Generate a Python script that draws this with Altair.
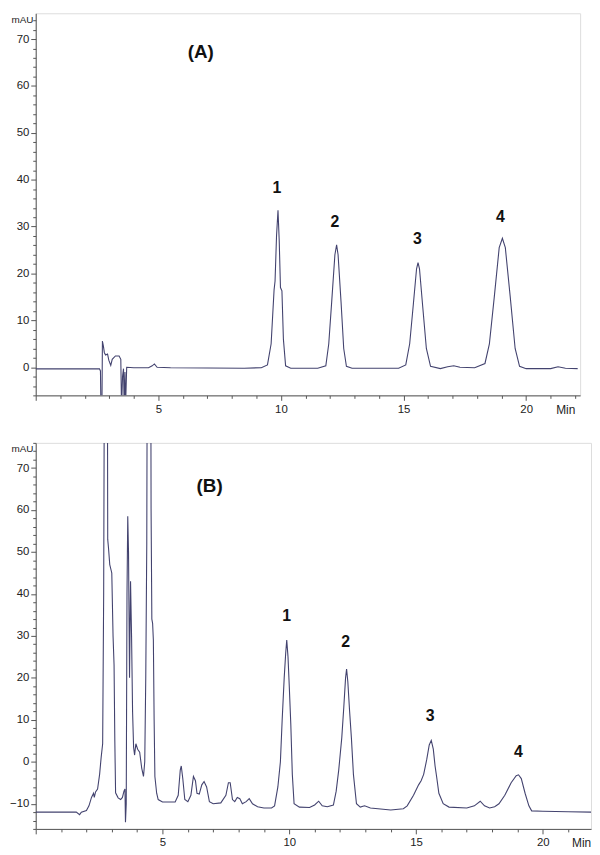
import altair as alt
import pandas as pd

# ---------------- Panel (A) trace: retention time (min) and absorbance (mAU)
a_time = [0.0, 2.60, 2.64, 2.66, 2.70, 2.72, 2.76, 2.80, 2.85, 2.93, 2.98, 3.06, 3.12, 3.25, 3.40,
          3.47, 3.50, 3.54, 3.58, 3.61, 3.64, 3.66, 3.71, 4.0, 4.6, 4.75, 4.84, 4.95, 5.5, 7.0,
          8.5, 9.2, 9.45, 9.6, 9.72, 9.76, 9.82, 9.88, 9.93, 9.98, 10.04, 10.1, 10.19, 10.4,
          11.5, 11.83, 11.95, 12.07, 12.2, 12.27, 12.33, 12.45, 12.56, 12.67, 12.9,
          14.8, 15.09, 15.25, 15.4, 15.53, 15.59, 15.65, 15.78, 15.93, 16.1, 16.5, 16.8, 17.05,
          17.3, 17.9, 18.32, 18.5, 18.7, 18.9, 19.03, 19.15, 19.35, 19.55, 19.73, 20.0, 21.0,
          21.3, 21.6, 22.1]
a_mau = [-0.35, -0.35, -0.8, -9, -9, 5.6, 4.5, 3.1, 2.6, 2.8, 1.5, 0.4, 1.7, 2.4, 2.4,
         1.7, -9, -2, -0.3, -9, -1, -9, 0.0, -0.1, -0.1, 0.3, 0.7, 0.0, -0.1, -0.15,
         -0.2, -0.1, 0.5, 5, 16.5, 18.4, 28, 33.5, 27, 17, 16.3, 6, 0.3, -0.2,
         -0.2, 0.3, 5, 14, 24, 26.1, 24, 14, 4, 0.2, -0.2,
         -0.2, 0.5, 5, 13.5, 21, 22.3, 21, 13, 4, 0.2, -0.3, 0.1, 0.3,
         0.0, -0.1, 0.8, 5, 15, 25.5, 27.5, 25.5, 15, 4, 0.2, -0.3, -0.3,
         0.1, -0.2, -0.3]

# ---------------- Panel (B) trace
b_time = [0.0, 1.6, 1.73, 1.8, 2.0, 2.1, 2.2, 2.28, 2.31, 2.36, 2.44, 2.52, 2.58, 2.64, 2.68,
          2.72, 2.77, 2.82, 2.84, 2.87, 2.92, 3.0, 3.05, 3.09, 3.12, 3.15, 3.25, 3.35, 3.42,
          3.48, 3.52, 3.54, 3.57, 3.60, 3.63, 3.66, 3.70, 3.74, 3.78, 3.82, 3.86, 3.90, 3.95,
          4.02, 4.1, 4.18, 4.25, 4.30, 4.34, 4.38, 4.42, 4.47, 4.52, 4.55, 4.58, 4.61, 4.64,
          4.67, 4.70, 4.77, 4.83, 5.0, 5.5, 5.62, 5.70, 5.74, 5.80, 5.88, 6.0, 6.12, 6.22,
          6.30, 6.36, 6.45, 6.55, 6.64, 6.74, 6.85, 7.0, 7.3, 7.5, 7.6, 7.67, 7.76, 7.85,
          7.95, 8.05, 8.15, 8.3, 8.42, 8.55, 8.75, 9.0, 9.3, 9.42, 9.55, 9.65, 9.72, 9.80,
          9.86, 9.90, 9.95, 10.0, 10.06, 10.12, 10.19, 10.4, 10.8, 11.0, 11.16, 11.3, 11.5,
          11.74, 11.85, 11.95, 12.07, 12.15, 12.22, 12.26, 12.31, 12.38, 12.45, 12.53, 12.65,
          12.8, 12.97, 13.2, 14.0, 14.5, 14.65, 14.9, 15.1, 15.2, 15.3, 15.42, 15.52, 15.6,
          15.68, 15.75, 15.81, 15.9, 16.07, 16.3, 17.0, 17.3, 17.53, 17.7, 17.9, 18.1, 18.27,
          18.5, 18.75, 18.95, 19.04, 19.15, 19.3, 19.45, 19.56, 20.0, 21.0, 21.9]
b_mau = [-12, -12, -12.6, -12, -11.6, -10.5, -8.5, -7.5, -8.5, -7.2, -6.5, -3, 1, 4.3, 40,
         120, 300, 120, 53, 51, 47, 45, 30, 23, 5, -7.4, -8.6, -9, -8.5,
         -7, -6.5, -14.4, -10, 40, 58.5, 50, 20, 43, 30, 12, 3.5, 1.6, 4.3,
         3, 2.3, -1.5, -3.5, 0, 20, 52, 150, 300, 150, 60, 34, 33, 29,
         10, -3.5, -7.5, -9, -9.6, -9.6, -8, -2, -1, -4, -9, -9.5, -8, -3.5,
         -4.5, -7.5, -7.7, -5.5, -4.7, -6, -9.5, -10, -9.8, -8, -5, -5, -9, -9.5,
         -8.5, -8.8, -10, -9.5, -8.8, -10, -10.7, -11, -11, -10.5, -6, 0, 10, 20,
         26, 29, 25, 18, 9, -3, -10, -10.8, -10.9, -10.3, -9.4, -10.5, -10.7,
         -10.3, -7, -2, 5.7, 13, 20, 22.1, 19, 12, 5.7, -3, -10,
         -10.8, -10.5, -11, -11.5, -11.2, -10.5, -8, -5.5, -4.5, -3, 0.5, 4, 5.1,
         3, -1, -3.5, -7.5, -10, -10.8, -11, -10.5, -9.4, -10.5, -11, -10.7, -10,
         -8, -5, -3.3, -3.1, -4, -7.5, -10.5, -11.7, -11.8, -11.9, -12]

# ---------------- Annotations
a_panel_label = ["(A)"]
a_panel_t = [6.73]
a_panel_v = [67.3]
a_peak_labels = ["1", "2", "3", "4"]
a_peak_t = [9.84, 12.2, 15.56, 18.95]
a_peak_v = [38.2, 31.0, 27.3, 32.1]

b_panel_label = ["(B)"]
b_panel_t = [6.86]
b_panel_v = [65.8]
b_peak_labels = ["1", "2", "3", "4"]
b_peak_t = [9.9, 12.22, 15.56, 19.04]
b_peak_v = [34.7, 28.5, 10.8, 2.3]

LINE = "#43436f"
AXIS = "#555555"
FONT = "Liberation Sans"


def panel(times, values, plabel, pt, pv, klabels, kt, kv,
          xmax, ydom, width, height, min_x):
    trace = pd.DataFrame({"t": times, "v": values})
    title_df = pd.DataFrame({"t": pt, "v": pv, "txt": plabel})
    peaks_df = pd.DataFrame({"t": kt, "v": kv, "txt": klabels})

    x_axis = alt.Axis(
        values=list(range(0, int(xmax) + 1)),
        labelExpr="datum.value % 5 === 0 && datum.value > 0 ? datum.label : ''",
        labelOverlap=False,
        tickSize={"condition": {"test": "datum.value % 5 === 0", "value": 5}, "value": 3},
        labelFontSize=11.5, labelFont=FONT, labelColor="#222222", labelPadding=3,
        domainColor=AXIS, tickColor=AXIS, grid=False,
        title="Min", titleFont=FONT, titleFontSize=12, titleFontWeight="normal",
        titleColor="#222222", titleX=min_x, titleY=14,
        titleAlign="center", titleBaseline="middle",
    )
    y_vals = list(range(int(ydom[0]), int(ydom[1]) + 1, 2))
    y_axis = alt.Axis(
        values=y_vals,
        labelExpr="datum.value % 10 === 0 ? datum.label : ''",
        labelOverlap=False,
        tickSize={"condition": {"test": "datum.value % 10 === 0", "value": 5}, "value": 3},
        labelFontSize=11.5, labelFont=FONT, labelColor="#222222", labelPadding=2,
        domainColor=AXIS, tickColor=AXIS, grid=False,
        title="mAU", titleFont=FONT, titleFontSize=10, titleFontWeight="normal",
        titleColor="#222222", titleAngle=0, titleX=-25, titleY=6,
        titleAlign="left", titleBaseline="middle",
    )
    X = alt.X("t:Q", scale=alt.Scale(domain=[0, xmax], nice=False, zero=False), axis=x_axis)
    Y = alt.Y("v:Q", scale=alt.Scale(domain=list(ydom), nice=False, zero=False), axis=y_axis)

    line = alt.Chart(trace).mark_line(clip=True, color=LINE, strokeWidth=1.1,
                                      interpolate="linear").encode(x=X, y=Y, order="t:Q")
    ttl = alt.Chart(title_df).mark_text(font=FONT, fontSize=19, fontWeight="bold",
                                        color="#111111").encode(x=X, y=Y, text="txt:N")
    pk = alt.Chart(peaks_df).mark_text(font=FONT, fontSize=16, fontWeight="bold",
                                       color="#111111").encode(x=X, y=Y, text="txt:N")
    return alt.layer(line, ttl, pk).properties(width=width, height=height)


top = panel(a_time, a_mau, a_panel_label, a_panel_t, a_panel_v,
            a_peak_labels, a_peak_t, a_peak_v,
            22.2, (-6, 75.5), 550, 386, 535)
bottom = panel(b_time, b_mau, b_panel_label, b_panel_t, b_panel_v,
               b_peak_labels, b_peak_t, b_peak_v,
               21.9, (-16, 76), 561, 390, 551)

chart = alt.vconcat(top, bottom, spacing=20).properties(
    padding={"left": 0, "top": 0, "right": 0, "bottom": 0}
).configure_view(stroke=None).configure(background="white")

chart.save("out.html", embed_options={"renderer": "svg", "actions": False})
